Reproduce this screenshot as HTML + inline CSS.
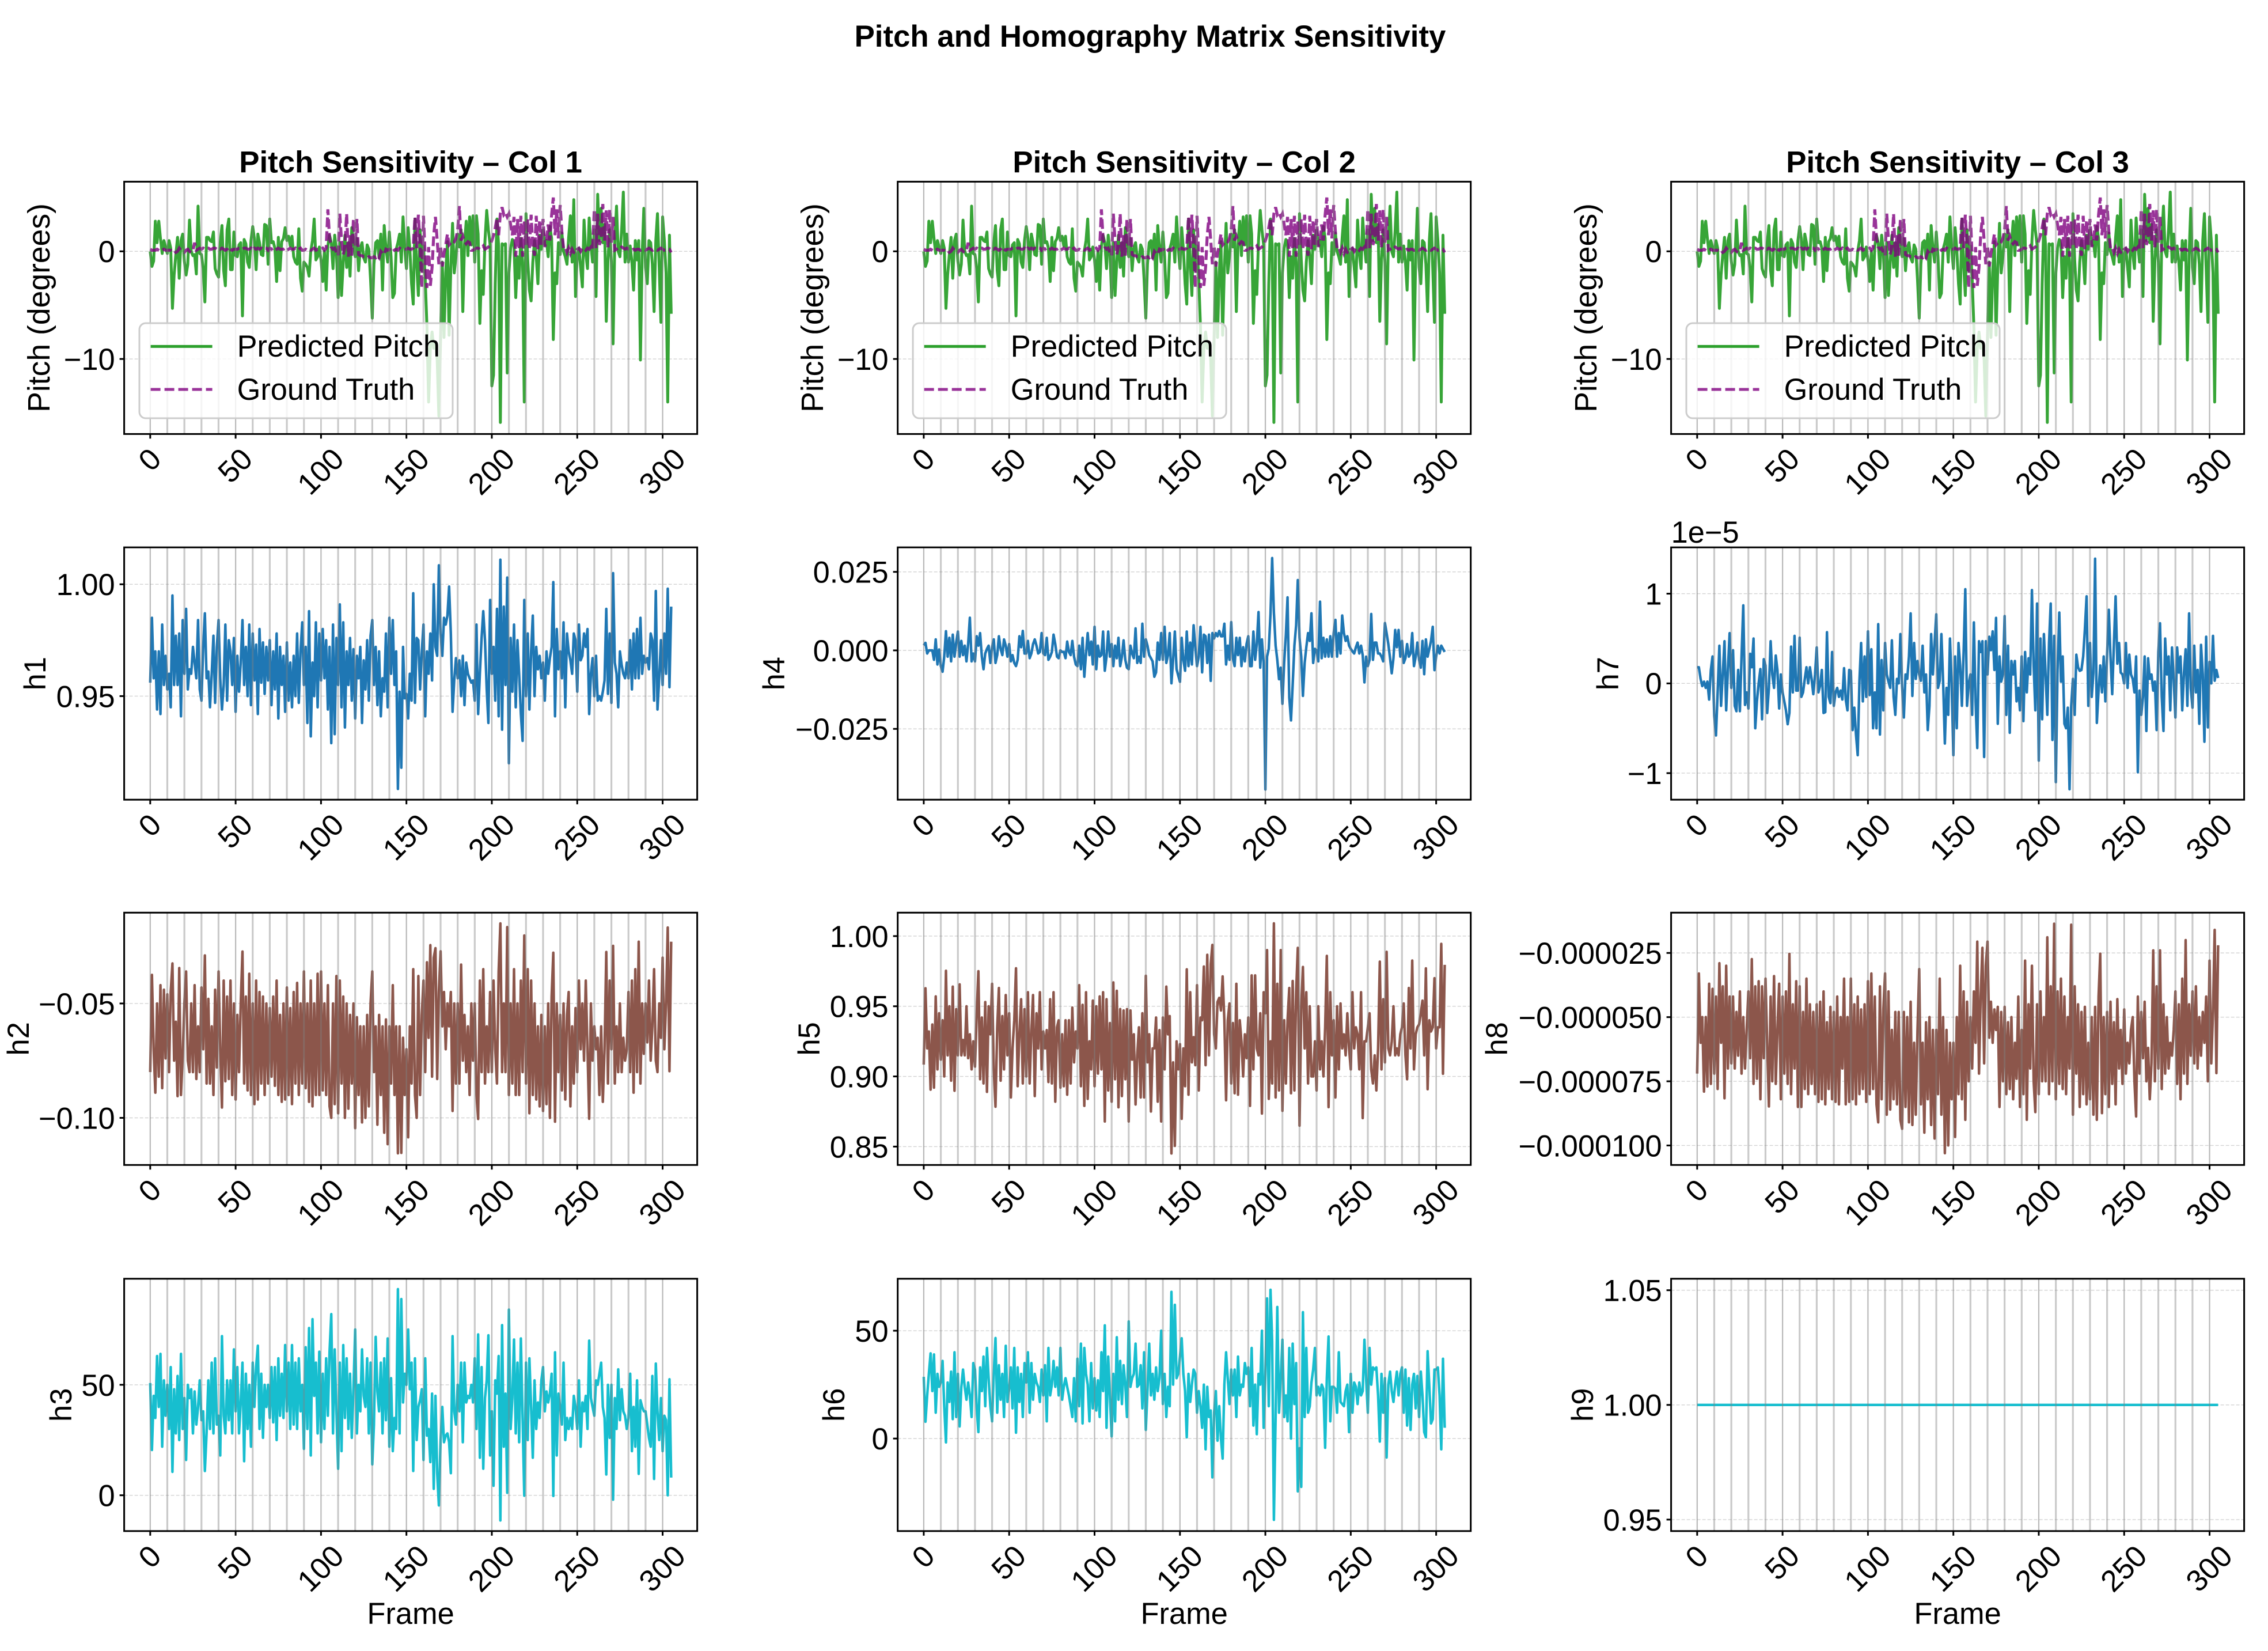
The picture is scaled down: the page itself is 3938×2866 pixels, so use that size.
<!DOCTYPE html>
<html lang="en">
<head>
<meta charset="utf-8">
<title>Pitch and Homography Matrix Sensitivity</title>
<style>
html,body{margin:0;padding:0;background:#fff;width:3938px;height:2866px;overflow:hidden}
svg{display:block}
text{font-family:"Liberation Sans",Arial,sans-serif;fill:#000}
</style>
</head>
<body>
<svg id="figure" xmlns="http://www.w3.org/2000/svg" width="3938" height="2866" viewBox="0 0 3938 2866">
<rect width="3938" height="2866" fill="#fff"/>
<text x="1997" y="81" text-anchor="middle" font-size="52.8" font-weight="bold">Pitch and Homography Matrix Sensitivity</text>
</svg>
<script>
const xTickValues=[0,50,100,150,200,250,300];
const pitchPredicted=[
0,-1.4,-.9,2.8,.8,2.8,1.2,-.2,1,.4,
-.2,1,.3,-5.3,-2.2,-.3,1.3,-2.5,1,1.6,
-.9,-2.2,-1.2,2.9,0,-.4,-.3,-2.1,4.2,-.2,
-.3,-1.6,-4.7,1.3,1.3,1,.9,1.8,-1.6,-2.1,
-2.4,.8,2.4,-1.8,-3.2,2,3,-1.7,-1.7,1.8,
-.4,-.5,.6,.8,-6,1.1,.7,-1,-1.5,1,
2.3,1.2,-1.7,1.6,.8,-.3,-.4,2.5,2.4,-1.2,
3,.8,.9,.3,-2.8,1.3,-1.8,.9,1.2,2.2,
1,1.4,.5,1.4,-.5,-1,-1.2,2.1,-2.5,-3.7,
-1,-1.2,-1.5,-2.3,0,1,3,-.8,-.5,.4,
-.8,-2.8,0,-3.6,.5,1.5,.8,-1.6,1.5,0,
-4.3,.8,-4.1,-1,1.5,-1.5,.8,-2.3,2.2,1,
-.5,1.2,-1.8,.3,.8,-.6,-1,.6,.2,-2.6,
-6.2,-1.2,.8,1,-.6,1.6,-3.6,2.4,.3,-1,
1.8,-.5,-4.3,-3.9,.2,.8,1.6,-1,3.2,.4,
-1.6,2.2,.2,-3,-4.9,3,-1.2,-4.1,2,-1.8,
.5,-2.5,-7,-14,-9,-7.5,-9,-8.5,-10,-15.3,
-8,-1,-8,-2,.9,-7.8,-1.5,2.6,-2,-.5,
1.6,.4,2,-5.6,.6,2.8,-.4,3.2,.6,3.3,
-1,3.3,1.6,-6.7,-1.8,-4,1,3.8,2,.6,
-12.5,-11.5,-3,3,.5,-15.9,.7,.6,.7,-11.3,
-2,.3,1.1,.6,-4.3,-.5,-2.5,1.2,-1,-14,
3.5,-.8,-3.6,-4.6,-1,1,-.5,-3,1.5,.2,
2,.6,1,-.5,2.3,1.2,-8.2,-2,-3,.8,
-.3,1.7,0,-.5,-1.2,1.3,3.3,-1,4.8,-4.2,
-.3,.3,-1.5,-3.3,2.9,-.2,-1.6,3.1,.6,-1,
2,-4.2,5.3,1,4,.8,2.5,-6.5,-.8,2,
-1,-8.6,1,4.2,0,-.5,2,5.5,-1,1.6,
-1,.5,-1,-3.6,1,-.8,1,-10.1,-.3,4,
-1.5,-3,1,.8,-1.2,-5.6,1,3.5,-1.5,-6.6,
3.2,1,-2,-14,1.5,-5.8];
const pitchGroundTruth=[
.2,.1,.1,.1,.2,.1,0,.1,.2,.1,
.1,.1,.1,0,.1,-.1,0,.3,.1,0,
-.1,.1,.2,0,-.1,.1,.8,.1,.2,.3,
.2,.3,.2,.3,.3,.2,.2,.3,.3,.2,
.3,.2,.3,.2,.1,.2,.4,.2,.1,.2,
.2,.2,.3,.3,.2,.3,.3,.2,.2,.3,
.1,.3,.2,.3,.2,.3,.2,.3,.3,.1,
.3,.2,.3,.1,.2,.3,.2,.2,.2,.3,
.1,.2,.3,.2,.2,.3,.1,.2,.3,.1,
.1,.2,.1,.2,.1,.2,.3,.1,.2,.2,
.2,.3,.1,.3,3.9,1.2,.4,.2,.3,-.1,
-.4,3.5,1,-.3,.4,3.5,-.5,1.5,-.4,3,
.5,3,-.3,-.4,-.4,-.5,-.5,-.6,-.5,-.6,
-.6,-.5,-.6,-.4,-.6,0,-.2,-.3,.2,.1,
.2,.1,.3,.1,.2,.1,.3,.2,.2,.2,
.2,.3,.2,.2,.3,3.2,.3,3.4,.6,-3.4,
3.3,-.6,-3.4,.4,-3.2,-1.5,1.5,3.2,1,-1.2,
.5,-1.4,-.2,.6,1.6,.6,.8,1,.9,1.2,
2,4.2,1,1.4,.9,.7,.9,.8,.1,.1,
.2,.3,.3,.2,.3,.5,.2,.3,.4,.6,
1,1.5,2.2,3.1,1.5,3.5,4.1,3.4,3.6,3.2,
3.5,2.5,1.5,3.2,-.5,3,.3,3.3,-.5,2.8,
.5,3,.2,3.4,.4,-.4,3.3,.2,2.9,.6,
3,.4,1,2.5,1,3.4,5,1.5,3.9,1.2,
4.3,1.8,.3,.4,-.1,.3,-.2,.2,-.1,-.2,
.2,.3,0,.3,.3,.1,.3,.2,.4,.1,
3.9,.3,3.5,.6,1.2,4.4,1,3.8,.3,3.9,
.8,3.2,.1,.2,.3,.2,.4,.3,.2,.3,
.2,.2,.1,.2,.1,.2,.2,.1,.2,.2,
.1,.2,.3,.2,.1,.2,.2,.1,.2,.3,
.2,.1,.1,.2,.2,-.1];
const h1Values=[
.956,.985,.958,.97,.944,.97,.942,.982,.955,.968,
.953,.96,.945,.995,.955,.977,.955,.978,.941,.984,
.96,.989,.953,.962,.96,.972,.965,.958,.984,.953,
.948,.972,.987,.958,.961,.945,.96,.977,.947,.972,
.984,.958,.944,.955,.982,.948,.975,.97,.955,.976,
.943,.968,.952,.965,.984,.955,.972,.95,.982,.946,
.978,.957,.973,.942,.98,.956,.974,.951,.972,.957,
.975,.946,.97,.953,.978,.94,.972,.955,.968,.943,
.974,.948,.965,.945,.968,.95,.978,.947,.97,.983,
.955,.972,.938,.988,.932,.965,.95,.983,.945,.978,
.957,.98,.958,.975,.944,.972,.929,.982,.933,.976,
.955,.991,.945,.983,.936,.97,.955,.976,.948,.971,
.94,.968,.958,.972,.938,.966,.953,.975,.948,.977,
.984,.955,.972,.946,.97,.941,.958,.952,.978,.945,
.985,.96,.984,.955,.97,.9085,.952,.918,.972,.949,
.951,.94,.96,.948,.996,.947,.976,.975,.953,.97,
.982,.941,.97,.96,.978,.957,1,.972,.968,1.0085,
.978,.968,.985,.982,.986,.999,.978,.943,.957,.967,
.958,.966,.95,.968,.946,.965,.96,.958,.956,.957,
.948,.982,.942,.96,.976,.988,.975,.953,.938,.993,
.96,.972,.948,.989,.941,1.011,.935,.99,.955,1.003,
.92,.976,.952,.982,.945,.975,.96,.942,.93,.993,
.95,.978,.944,.97,.986,.95,.972,.962,.968,.958,
.965,.948,.97,.96,.967,.972,1.001,.941,.98,.962,
.97,.958,.983,.945,.978,.97,.966,.96,.978,.975,
.952,.982,.966,.968,.978,.972,.98,.942,.96,.967,
.95,.968,.948,.95,.948,.952,.957,.989,.951,.978,
.947,1.005,.965,.96,.945,.97,.964,.96,.958,.965,
.958,.975,.953,.978,.958,.98,.958,.985,.96,.968,
.965,.967,.962,.978,.975,.948,.997,.944,.958,.975,
.955,.978,.96,.998,.954,.99];
const h2Values=[
-.08,-.0375,-.07,-.089,-.05,-.082,-.042,-.087,-.044,-.074,
-.046,-.08,-.045,-.0325,-.075,-.058,-.0905,-.0345,-.09,-.073,
-.05,-.036,-.075,-.08,-.05,-.08,-.042,-.083,-.06,-.08,
-.043,-.07,-.029,-.085,-.048,-.085,-.06,-.09,-.044,-.078,
-.036,-.07,-.0955,-.04,-.084,-.047,-.083,-.04,-.09,-.05,
-.092,-.055,-.08,-.05,-.0273,-.085,-.047,-.088,-.037,-.09,
-.05,-.094,-.04,-.092,-.045,-.085,-.047,-.09,-.05,-.085,
-.052,-.082,-.047,-.086,-.04,-.09,-.055,-.093,-.05,-.092,
-.043,-.09,-.052,-.094,-.045,-.085,-.041,-.09,-.05,-.085,
-.036,-.087,-.05,-.093,-.04,-.095,-.05,-.09,-.037,-.09,
-.036,-.088,-.05,-.09,-.042,-.095,-.1,-.05,-.094,-.038,
-.098,-.04,-.085,-.047,-.1,-.05,-.096,-.055,-.085,-.05,
-.1045,-.056,-.09,-.06,-.102,-.06,-.1,-.055,-.095,-.05,
-.036,-.08,-.06,-.103,-.055,-.09,-.06,-.1065,-.057,-.1115,
-.06,-.085,-.042,-.09,-.06,-.1155,-.06,-.1153,-.065,-.09,
-.07,-.1085,-.06,-.085,-.035,-.09,-.1,-.038,-.09,-.055,
-.04,-.08,-.032,-.065,-.0245,-.082,-.03,-.0258,-.083,-.045,
-.0272,-.06,-.045,-.07,-.05,-.06,-.045,-.097,-.05,-.085,
-.05,-.085,-.033,-.075,-.055,-.08,-.06,-.09,-.05,-.075,
-.05,-.09,-.1005,-.04,-.08,-.035,-.085,-.06,-.08,-.045,
-.08,-.04,-.07,-.085,-.036,-.015,-.08,-.05,-.08,-.0166,
-.09,-.05,-.085,-.035,-.09,-.05,-.09,-.04,-.08,-.0203,
-.085,-.035,-.098,-.04,-.09,-.05,-.092,-.06,-.095,-.055,
-.097,-.06,-.094,-.05,-.1,-.047,-.0278,-.1017,-.05,-.08,
-.055,-.088,-.05,-.092,-.055,-.045,-.095,-.06,-.085,-.052,
-.08,-.04,-.07,-.05,-.075,-.04,-.07,-.1004,-.05,-.075,
-.06,-.07,-.065,-.09,-.06,-.093,-.07,-.0275,-.085,-.04,
-.07,-.0248,-.085,-.06,-.08,-.05,-.08,-.065,-.075,-.07,
-.045,-.08,-.04,-.089,-.035,-.08,-.023,-.085,-.05,-.072,
-.05,-.067,-.04,-.075,-.06,-.035,-.075,-.08,-.05,-.065,
-.03,-.07,-.05,-.0168,-.0796,-.023];
const h3Values=[
50.8,20.5,45,35,63,40,64,22,52,36,
50,30,58,10.6,48,28,54,25,64,30,
44,16,50,44,48,28,47,32,40,52,
34,38,11,28,52,30,60,28,62,32,
36,18,72,36,28,52,34,52,28,66,
38,58,28,42,60,15.4,55,30,50,22,
60,40,58,67.7,30,55,26,50,40,50,
35,58,33,58,25,62,36,55,35,68,
38,60,30,68,32,60,30,62,38,50,
21,67,30,75.7,18,79.7,45,60,28,65,
24,55,30,62,36,65,82,28,66,38,
12,60,20,68,35,62,30,55,26,48,
75,28,50,38,66,45,40,62,28,60,
14,32,71.7,47,38,60,28,62,34,71,
22,53,20,35,30,93.3,28,88.8,42,55,
50,75,48,60,11,62,25,40,43,48,
16,62,27,30,15,46,2.9,45,10,-4.6,
25,40,24,27,28,24,10,72,38,32,
50,38,60,24,60,42,45,44,50,42,
62,30,72.8,17,58,12,44,52,72.4,18,
38,4.3,52,46,63,-11.4,77,22,46,1.1,
84,30,44,70.5,28,60,24,71,35,-.2,
60,25,62,40,17,52,30,42,35,52,
58,38,47,42,46,55,-.3,64.7,18,46,
40,32,60,25,35,30,35,30,45,40,
30,52,22,42,38,45,30,70,44,40,
36,52,50,55,60,40,35,9.4,50,26,
50,-2,44,30,57,34,48,38,36,30,
35,55,20,40,22,52,9.7,43,40,38,
38,32,26,22,54,7.4,59.6,38,25,44,
20,36,34,0,52.5,8];
const h4Values=[
.0016,.0024,-.001,0,0,0,-.003,.0035,-.0045,.0003,
-.005,-.0068,-.002,.0061,-.002,.004,-.0035,.005,-.002,.0025,
.006,-.002,.003,-.0015,.0015,-.0035,.002,.0104,-.0035,-.001,
-.0035,.0045,.0015,.0055,-.002,-.006,-.001,.0005,.0015,-.004,
.001,.0035,-.004,-.0015,.0045,.0005,-.0015,.0035,.0015,-.002,
.002,-.0035,-.0015,-.004,-.005,-.003,.0045,.001,.0062,-.001,
-.001,.003,-.0025,-.001,.002,.0035,.0015,-.001,-.0005,.0055,
-.001,-.0015,.004,-.003,-.002,-.0005,.005,.002,-.002,-.0025,
0,-.0005,-.0005,-.0025,.0028,-.0005,-.0015,.003,-.002,-.0045,
-.005,.0015,-.006,.004,-.0084,-.001,.0055,-.0015,.0028,-.0045,
.0075,-.006,.0015,-.002,-.0015,.006,-.0065,-.002,.006,-.002,
.002,-.005,.0015,-.0025,.004,-.005,-.002,.0032,-.003,-.0055,
-.006,.0015,-.001,-.0025,.007,-.004,-.002,-.004,.0085,-.002,
.0035,.0015,-.0015,-.0025,-.0035,-.0084,-.007,.0025,-.003,.0055,
-.003,.0075,-.004,-.0015,.0055,-.0105,-.003,.006,-.006,-.008,
-.01,.004,-.003,-.0065,.006,-.005,.0025,-.0045,.008,.001,
-.005,-.002,.0075,-.007,.005,.0045,-.004,.005,-.0097,.0055,
.0038,.0055,.0045,.0062,.0045,.0045,.0085,-.0045,.0015,-.003,
.009,-.0025,-.005,.004,-.0015,.004,-.005,.001,-.0035,.002,
.0045,-.005,-.005,.006,-.003,.002,.0122,-.0055,.0035,-.004,
-.0443,-.002,.0005,.0115,.0294,.012,.0015,-.003,-.0092,-.0055,
-.017,-.004,.005,.0169,-.015,-.0223,-.011,.0015,.008,.0224,
.004,-.002,-.0145,-.004,.001,.0055,.003,.0118,-.004,.0005,
0,-.0035,.0155,-.0025,.004,-.002,.0035,-.002,.0045,-.002,
.0055,.0097,-.002,.0055,-.001,.0111,.0055,.003,.0045,.0015,
.0005,-.0003,-.001,.001,.0025,-.001,.0015,-.0015,-.0102,-.002,
-.005,-.003,.0116,-.003,.0025,.0025,-.001,-.001,-.002,-.0035,
.0087,.0055,.002,-.0025,-.0073,-.0025,.0065,.001,.0065,-.002,
.003,-.004,-.0025,.002,-.002,-.001,.0055,-.005,-.002,.0025,
-.003,-.0055,.003,-.0076,.0035,-.002,.0005,.003,.0075,-.0063,
-.002,.0015,-.001,.0015,.0005,-.0005];
const h5Values=[
.9084,.9628,.92,.932,.8906,.937,.892,.957,.905,.945,
.912,.94,.9,.9753,.915,.95,.897,.964,.8898,.948,
.915,.9656,.915,.926,.915,.95,.913,.93,.905,.925,
.907,.945,.975,.898,.942,.895,.953,.889,.95,.93,
.966,.905,.8784,.935,.963,.897,.943,.905,.958,.915,
.945,.885,.92,.94,.9771,.893,.93,.955,.895,.948,
.9,.96,.895,.933,.958,.886,.945,.92,.96,.905,
.932,.92,.933,.896,.955,.895,.96,.882,.935,.94,
.892,.93,.893,.94,.887,.94,.895,.949,.91,.932,
.92,.965,.893,.951,.879,.96,.884,.925,.905,.954,
.893,.95,.902,.957,.905,.96,.8679,.955,.89,.938,
.882,.967,.898,.961,.878,.948,.886,.947,.898,.948,
.8679,.947,.912,.93,.88,.915,.935,.885,.945,.885,
.9717,.91,.93,.875,.92,.92,.942,.882,.933,.8679,
.942,.905,.964,.93,.943,.8451,.91,.8505,.925,.905,
.923,.8698,.92,.893,.9763,.887,.96,.91,.928,.908,
.965,.89,.942,.94,.9783,.908,.9867,.915,.98,.9937,
.93,.92,.953,.956,.947,.9713,.94,.883,.94,.952,
.895,.938,.888,.966,.887,.94,.925,.9,.93,.913,
.942,.879,.972,.905,.972,.92,.915,.945,.8735,.96,
.945,.99,.884,.925,.895,1.0091,.885,.966,.89,.99,
.8755,.94,.895,.94,.963,.888,.968,.89,.96,.9916,
.8649,.95,.978,.92,.96,.895,.95,.9,.9,.925,
.89,.95,.905,.925,.9,.935,.9859,.8781,.96,.915,
.94,.885,.95,.905,.952,.92,.93,.915,.945,.92,
.905,.96,.92,.935,.93,.905,.96,.8703,.925,.925,
.935,.945,.905,.895,.915,.89,.92,.9818,.905,.955,
.91,.9888,.92,.915,.925,.95,.915,.92,.915,.93,
.935,.952,.915,.898,.963,.92,.9826,.905,.93,.935,
.937,.945,.954,.915,.977,.8909,.94,.932,.935,.97,
.92,.935,.935,.9945,.9019,.9795];
const h6Values=[
28.6,7.8,20,30,39.5,22,39,12,30,24,
26,36,15,-1.8,26,17,31,9,40,10,
30,5.6,24,32,24,18,26,20,10,35,
32,14,3,33,22,38,15,42,28,15,
8,30,46.6,12,34,18,30,10,43,17,
23,33,14,42,2.7,33,17,30,10,35,
26,40,12,35,18,30,26,24,17,32,
20,34,8,42,20,25,36,24,33,20,
42,18,24,28,24,20,15,10,28,8,
37,15,44,7,42,30,25,8,35,14,
28,13,27,10,40,22,52.5,5,38,20,
1,30,8,47,18,36,16,34,25,10,
54.3,24,28,30,44,24,25,34,14,40,
4,22,44,20,30,18,33,22,28,50,
16,30,10,24,15,68,25,62,28,30,
38,46.5,30,22,.6,30,17,25,32,30,
12,22,15,5,25,-5,24,10,13,-18,
12,22,-1,15,0,-9.3,25,40,28,16,
32,20,32,10,38,20,25,24,35,30,
33,15,42,6,25,2,30,25,50,5,
30,65,15,69,45,-37.7,10,61,12,28,
45.8,10,20,8,42,0,44,16,35,-24.5,
-4.5,-22.4,58.6,10,42,12,15,26,32,42,
20,24,20,25,23,-4.3,28,47.3,8,24,
24,23,12,40,17,16,15,22,25,3,
30,12,26,24,16,26,20,22,45.8,28,
12,42,25,33,32,33,20,-1.4,30,12,
28,-8.8,25,31,22,17,25,31,20,30,
33,12,32,6,28,4,25,30,14,29,
10,31,20,3,.6,40.5,24,7,9,32,
32,33,20,-5,37,5];
const h7ValuesE5=[
.18,.18,.05,-.03,.02,-.05,.02,-.18,.15,.3,
-.36,-.58,-.1,.42,-.25,.1,.47,-.3,.15,.56,
-.05,.37,-.25,-.31,.15,-.31,.3,.87,-.24,-.1,
-.28,.33,.18,.5,-.5,-.2,0,.16,-.4,.27,
.2,-.33,-.05,.47,.1,-.05,.31,.15,-.28,.1,
-.1,-.2,-.3,-.455,-.33,.41,-.1,.53,-.08,-.08,
.51,-.15,-.1,.05,.18,0,.18,.05,-.12,.1,
.4,-.1,-.02,.15,-.33,-.32,.57,-.15,-.22,.35,
-.25,-.1,-.05,-.15,-.08,-.18,.17,-.18,-.3,.15,
.14,-.52,-.27,-.57,-.8,.03,.45,-.2,.3,-.15,
.58,-.13,.38,-.5,-.1,-.5,.66,-.57,.26,-.3,
.45,.1,.02,-.05,.48,-.15,-.35,.05,0,.55,
-.03,-.38,.1,.05,.3,.78,-.14,.45,.05,.25,
.1,.03,.42,-.1,.1,-.52,-.25,.55,.1,.45,
.77,-.05,.03,.55,.02,-.67,-.05,-.35,.5,0,
-.8,.3,-.5,.45,.2,-.25,.35,1.05,-.25,0,
.1,-.35,.68,-.2,-.72,.47,.35,.47,-.82,.47,
.1,.52,.37,.58,.15,.73,-.45,.3,.02,.1,
.75,-.35,.42,-.55,.25,.1,.25,-.2,-.05,-.3,
.3,-.42,.35,-.1,.28,.1,1.04,.2,-.3,.89,
-.86,.5,-.4,.55,.1,-.35,.45,.89,-.63,.53,
-1.1,.15,.79,.02,.3,-.45,-.5,-.27,-1.18,-.25,
.05,-.35,.32,.18,.14,.15,.3,.6,.97,-.25,
.45,-.15,.12,1.39,-.44,-.08,.2,-.1,.3,-.2,
.32,.82,.3,-.12,.45,.97,.22,.45,.12,.1,
0,.45,-.05,.32,.1,.05,-.1,.3,-.99,-.08,
-.35,-.15,.3,-.53,.28,.05,.1,-.08,.02,-.52,
.35,.67,-.15,-.53,.5,.1,.3,-.3,.4,.05,
-.38,.4,.12,.3,-.3,.12,.38,-.25,.78,-.05,
-.27,.42,-.1,.15,-.45,.43,.1,-.65,.52,-.49,
.24,0,.53,.03,.15,.06];
const h8ValuesE6=[
-72,-33,-60,-50,-79,-50,-77,-37,-76,-39,
-72,-42,-78,-29,-60,-38,-81.6,-30,-70,-42,
-68,-42,-70,-48,-65,-40,-72,-50,-70,-55,
-40,-66,-27.4,-76,-38,-74,-36,-82,-38,-66,
-35,-60,-84.8,-42,-75,-34,-76,-55,-37,-82,
-42,-72,-40,-76,-25.4,-80,-45,-70,-36,-85,
-38,-85,-48,-78,-35,-80,-45,-76,-48,-80,
-45,-83,-44,-82,-40,-84,-52,-78,-46,-82,
-48,-83,-42,-84,-50,-70,-35,-84,-50,-83,
-35,-82,-45,-84,-42,-80,-47,-78,-45,-83,
-36,-80,-33,-78,-42,-84,-91,-38,-82,-47,
-33,-88,-40,-86,-55,-82,-48,-84,-48,-90,
-93.5,-48,-85,-50,-91,-44,-92,-60,-88,-55,
-31.3,-84,-60,-95,-52,-82,-50,-92,-55,-97.3,
-55,-80,-35,-88,-50,-103,-55,-100,-60,-82,
-60,-96.7,-50,-80,-30,-82,-40,-90,-44,-75,
-50,-70,-40,-60,-20.6,-72,-42,-23,-68,-30,
-20.6,-58,-44,-60,-47,-55,-46,-85,-48,-75,
-46,-80,-52,-78,-50,-82,-60,-74,-42,-85,
-55,-80,-28,-90,-45,-70,-30,-75,-87,-45,
-80,-40,-75,-50,-75,-18.9,-80,-38,-75,-13.6,
-82,-40,-76,-35,-78,-42,-80,-50,-70,-14,
-88,-38,-72,-45,-85,-48,-80,-46,-84,-60,
-82,-50,-88,-46,-90,-42,-25.3,-87.4,-50,-80,
-48,-85,-44,-76,-52,-84,-43,-70,-55,-76,
-47,-72,-60,-68,-55,-50,-75,-88.7,-42,-72,
-48,-66,-44,-75,-62,-82,-68,-24,-75,-38,
-70,-24,-78,-45,-72,-50,-70,-60,-65,-55,
-40,-76,-45,-82,-35,-72,-20,-76,-45,-65,
-40,-68,-38,-70,-50,-65,-48,-60,-42,-75,
-28,-68,-48,-16,-71.8,-22];
const h9Values=[
1,1,1,1,1,1,1,1,1,1,1,1,1,1,1,1,1,1,1,1,1,1,1,1,1,1,1,1,1,1,
1,1,1,1,1,1,1,1,1,1,1,1,1,1,1,1,1,1,1,1,1,1,1,1,1,1,1,1,1,1,
1,1,1,1,1,1,1,1,1,1,1,1,1,1,1,1,1,1,1,1,1,1,1,1,1,1,1,1,1,1,
1,1,1,1,1,1,1,1,1,1,1,1,1,1,1,1,1,1,1,1,1,1,1,1,1,1,1,1,1,1,
1,1,1,1,1,1,1,1,1,1,1,1,1,1,1,1,1,1,1,1,1,1,1,1,1,1,1,1,1,1,
1,1,1,1,1,1,1,1,1,1,1,1,1,1,1,1,1,1,1,1,1,1,1,1,1,1,1,1,1,1,
1,1,1,1,1,1,1,1,1,1,1,1,1,1,1,1,1,1,1,1,1,1,1,1,1,1,1,1,1,1,
1,1,1,1,1,1,1,1,1,1,1,1,1,1,1,1,1,1,1,1,1,1,1,1,1,1,1,1,1,1,
1,1,1,1,1,1,1,1,1,1,1,1,1,1,1,1,1,1,1,1,1,1,1,1,1,1,1,1,1,1,
1,1,1,1,1,1,1,1,1,1,1,1,1,1,1,1,1,1,1,1,1,1,1,1,1,1,1,1,1,1,
1,1,1,1,1,1];
const pitchTicks=[0,-10];
const pitchTickLabels=['0','\u221210'];
const h1Ticks=[1,.95];
const h1TickLabels=['1.00','0.95'];
const h2Ticks=[-.05,-.1];
const h2TickLabels=['\u22120.05','\u22120.10'];
const h3Ticks=[50,0];
const h3TickLabels=['50','0'];
const h4Ticks=[.025,0,-.025];
const h4TickLabels=['0.025','0.000','\u22120.025'];
const h5Ticks=[1,.95,.9,.85];
const h5TickLabels=['1.00','0.95','0.90','0.85'];
const h6Ticks=[50,0];
const h6TickLabels=['50','0'];
const h7Ticks=[1,0,-1];
const h7TickLabels=['1','0','\u22121'];
const h8Ticks=[-25,-50,-75,-100];
const h8TickLabels=['\u22120.000025','\u22120.000050','\u22120.000075','\u22120.000100'];
const h9Ticks=[1.05,1,.95];
const h9TickLabels=['1.05','1.00','0.95'];

const NS='http://www.w3.org/2000/svg';
const svg=document.getElementById('figure');
const colLeft=[215.6,1558.7,2901.6];
const rowTop=[315.4,950.2,1584.3,2219.8];
const AW=995,AH=438;
const XMIN=-15.25,XMAX=320.25;
const FS=52.4;

const panels=[
{id:'pitch-col-1',c:0,r:0,lim:[-16.97,6.47],ticks:pitchTicks,labels:pitchTickLabels,ylabel:'Pitch (degrees)',lx:86,title:'Pitch Sensitivity \u2013 Col 1',pitch:true},
{id:'pitch-col-2',c:1,r:0,lim:[-16.97,6.47],ticks:pitchTicks,labels:pitchTickLabels,ylabel:'Pitch (degrees)',lx:1429,title:'Pitch Sensitivity \u2013 Col 2',pitch:true},
{id:'pitch-col-3',c:2,r:0,lim:[-16.97,6.47],ticks:pitchTicks,labels:pitchTickLabels,ylabel:'Pitch (degrees)',lx:2772,title:'Pitch Sensitivity \u2013 Col 3',pitch:true},
{id:'h1',c:0,r:1,lim:[.9037,1.0165],ticks:h1Ticks,labels:h1TickLabels,ylabel:'h1',lx:79,series:h1Values,color:'#1f77b4'},
{id:'h4',c:1,r:1,lim:[-.04755,.0328],ticks:h4Ticks,labels:h4TickLabels,ylabel:'h4',lx:1362,series:h4Values,color:'#1f77b4'},
{id:'h7',c:2,r:1,lim:[-1.296,1.516],ticks:h7Ticks,labels:h7TickLabels,ylabel:'h7',lx:2810,series:h7ValuesE5,color:'#1f77b4',offset:'1e\u22125'},
{id:'h2',c:0,r:2,lim:[-.1206,-.0103],ticks:h2Ticks,labels:h2TickLabels,ylabel:'h2',lx:50,series:h2Values,color:'#8c564b'},
{id:'h5',c:1,r:2,lim:[.8369,1.0167],ticks:h5Ticks,labels:h5TickLabels,ylabel:'h5',lx:1423,series:h5Values,color:'#8c564b'},
{id:'h8',c:2,r:2,lim:[-107.6,-9.3],ticks:h8Ticks,labels:h8TickLabels,ylabel:'h8',lx:2617,series:h8ValuesE6,color:'#8c564b'},
{id:'h3',c:0,r:3,lim:[-16.2,98],ticks:h3Ticks,labels:h3TickLabels,ylabel:'h3',lx:124,series:h3Values,color:'#17becf',xlabel:true},
{id:'h6',c:1,r:3,lim:[-42.9,74.1],ticks:h6Ticks,labels:h6TickLabels,ylabel:'h6',lx:1466,series:h6Values,color:'#17becf',xlabel:true},
{id:'h9',c:2,r:3,lim:[.945,1.055],ticks:h9Ticks,labels:h9TickLabels,ylabel:'h9',lx:2766,series:h9Values,color:'#17becf',xlabel:true}
];

function mk(tag,attrs,parent){
  const el=document.createElementNS(NS,tag);
  for(const k in attrs){el.setAttribute(k,attrs[k]);}
  parent.appendChild(el);
  return el;
}
function pointsOf(values,sx,sy){
  return values.map((v,i)=>sx(i).toFixed(1)+','+sy(v).toFixed(1)).join(' ');
}

panels.forEach(function(p,pi){
  const L=colLeft[p.c],T=rowTop[p.r],R=L+AW,B=T+AH;
  const sx=x=>L+(x-XMIN)/(XMAX-XMIN)*AW;
  const sy=v=>B-(v-p.lim[0])/(p.lim[1]-p.lim[0])*AH;

  const g=mk('g',{},svg);
  
  

  const clip=mk('clipPath',{id:'clip'+pi},g);
  mk('rect',{x:L,y:T,width:AW,height:AH},clip);

  p.ticks.forEach(function(v){
    const gl=mk('line',{x1:L,x2:R,y1:sy(v),y2:sy(v),stroke:'#808080','stroke-opacity':.35,'stroke-width':1.4,'stroke-dasharray':'6 3'},g);
    
    
  });

  const plot=mk('g',{'clip-path':'url(#clip'+pi+')'},g);
  if(p.pitch){
    const pl=mk('polyline',{points:pointsOf(pitchPredicted,sx,sy),fill:'none',stroke:'#2ca02c','stroke-opacity':.95,'stroke-width':5,'stroke-linejoin':'round'},plot);
    
    
    const gt=mk('polyline',{points:pointsOf(pitchGroundTruth,sx,sy),fill:'none',stroke:'#800080','stroke-opacity':.8,'stroke-width':5.2,'stroke-dasharray':'17 7'},plot);
    
    
  }else{
    const sl=mk('polyline',{points:pointsOf(p.series,sx,sy),fill:'none',stroke:p.color,'stroke-width':4.4,'stroke-linejoin':'round'},plot);
    
    
  }

  for(let f=0;f<=300;f+=10){
    const major=f%50===0;
    const vl=mk('line',{x1:sx(f),x2:sx(f),y1:T,y2:B,stroke:'#808080','stroke-opacity':major?.55:.42,'stroke-width':major?2.2:3.2},g);
    
    
  }

  if(p.pitch){
    const leg=mk('g',{},g);
    
    
    mk('rect',{x:L+26.4,y:T+245.6,width:544,height:165,rx:11,ry:11,fill:'#fff','fill-opacity':.8,stroke:'#ccc','stroke-width':3},leg);
    const e1=mk('line',{x1:L+46,x2:L+153,y1:T+286,y2:T+286,stroke:'#2ca02c','stroke-width':5},leg);
    
    
    const t1=mk('text',{x:L+196,y:T+303.6,'font-size':FS},leg);
    t1.textContent='Predicted Pitch';
    
    
    const e2=mk('line',{x1:L+46,x2:L+153,y1:T+360.6,y2:T+360.6,stroke:'#800080','stroke-opacity':.8,'stroke-width':5,'stroke-dasharray':'17 7'},leg);
    
    
    const t2=mk('text',{x:L+196,y:T+378.6,'font-size':FS},leg);
    t2.textContent='Ground Truth';
    
    
  }

  const frame=mk('rect',{x:L,y:T,width:AW,height:AH,fill:'none',stroke:'#000','stroke-width':3},g);
  
  

  p.ticks.forEach(function(v,i){
    const tm=mk('line',{x1:L-8,x2:L,y1:sy(v),y2:sy(v),stroke:'#000','stroke-width':3},g);
    
    
    const tl=mk('text',{x:L-16,y:sy(v),dy:'.36em','text-anchor':'end','font-size':FS},g);
    tl.textContent=p.labels[i];
    
    
  });

  xTickValues.forEach(function(f){
    const x=sx(f)-1.5;
    const label=String(f);
    const w=label.length*.556*FS;
    const halfH=(w+38)*.7071/2;
    const cy=B+20+halfH;
    const tm=mk('line',{x1:sx(f),x2:sx(f),y1:B,y2:B+8,stroke:'#000','stroke-width':3},g);
    
    
    const tl=mk('text',{x:x,y:cy,dy:'.36em','text-anchor':'middle','font-size':FS,transform:'rotate(-45 '+x.toFixed(1)+' '+cy.toFixed(1)+')'},g);
    tl.textContent=label;
    
    
  });

  const cy=(T+B)/2;
  const yl=mk('text',{x:p.lx,y:cy,'text-anchor':'middle','font-size':p.pitch?53.5:FS,transform:'rotate(-90 '+p.lx+' '+cy+')'},g);
  yl.textContent=p.ylabel;
  
  

  if(p.title){
    const ti=mk('text',{x:(L+R)/2,y:T-16,'text-anchor':'middle','font-size':52.8,'font-weight':'bold'},g);
    ti.textContent=p.title;
    
    
  }
  if(p.xlabel){
    const xl=mk('text',{x:(L+R)/2,y:B+161,'text-anchor':'middle','font-size':FS},g);
    xl.textContent='Frame';
    
    
  }
  if(p.offset){
    const ol=mk('text',{x:L,y:T-8,'font-size':FS},g);
    ol.textContent=p.offset;
    
    
  }
});
</script>
</body>
</html>
